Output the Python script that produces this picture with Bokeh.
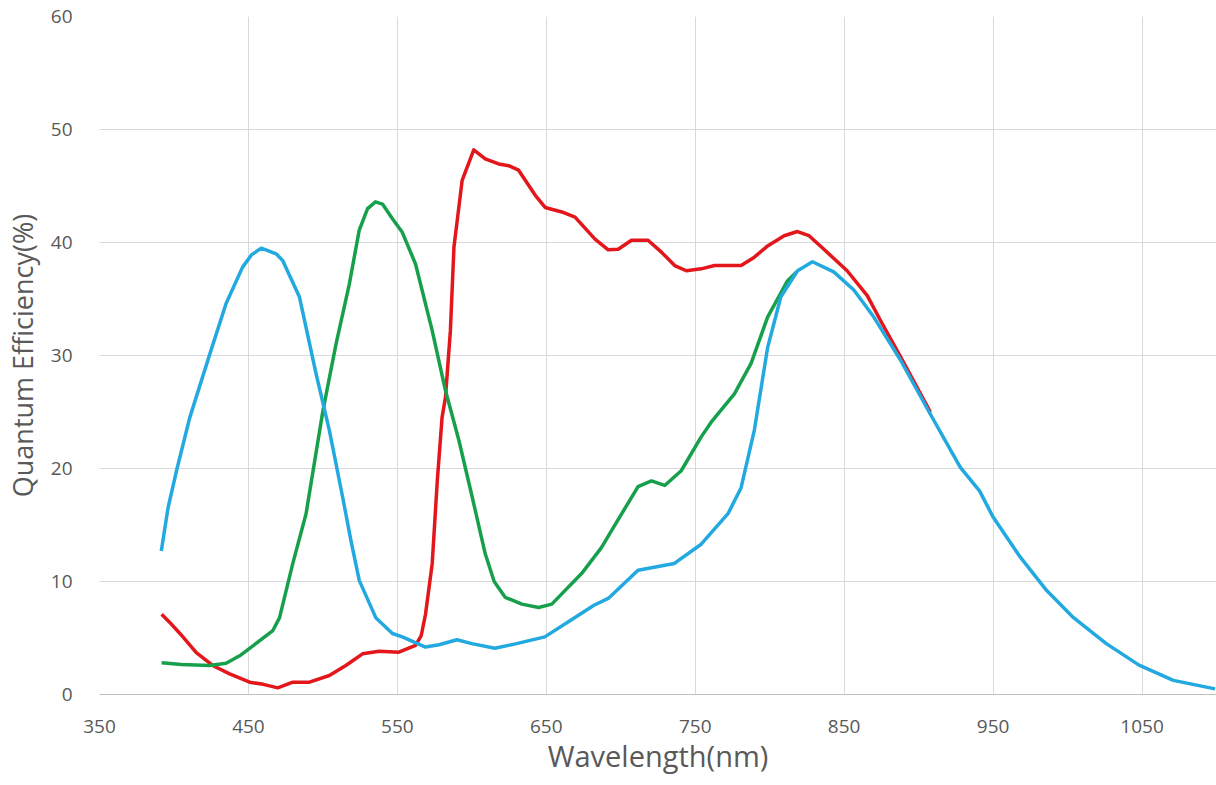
from bokeh.plotting import figure
from bokeh.models import Range1d, FixedTicker
from bokeh.embed import file_html
from bokeh.resources import INLINE

# Wavelength (nm) / quantum efficiency (%) samples
blue_wl = [391.5, 396, 401.7, 410.6, 424, 435, 446, 452, 458.6, 468.6, 473, 484.2,
           495.4, 504.3, 513.2, 519, 524.4, 535.5, 546.7, 553.3, 568.9, 578, 590,
           600, 615.5, 630, 649, 669, 682, 691.6, 711.6, 736, 754, 772, 780.8,
           789.7, 798.6, 807.5, 818.7, 828.7, 843, 856.5, 869.9, 887.8, 907.9,
           928, 941, 950, 968, 986, 1004, 1026, 1048, 1071, 1099]
blue_qe = [12.7, 16.5, 19.8, 24.5, 30.1, 34.6, 37.8, 38.9, 39.5, 39.0, 38.4, 35.2,
           28.4, 23.4, 17.5, 13.5, 10.1, 6.8, 5.4, 5.1, 4.2, 4.4, 4.85,
           4.5, 4.1, 4.5, 5.1, 6.8, 7.9, 8.5, 11.0, 11.6, 13.3, 16.0, 18.3,
           23.4, 30.7, 35.2, 37.5, 38.3, 37.4, 35.8, 33.4, 29.6, 24.8,
           20.1, 18.0, 15.7, 12.2, 9.2, 6.8, 4.5, 2.6, 1.25, 0.5]

green_wl = [391.7, 405, 424, 435, 445, 453, 466.4, 470.9, 479.8, 488.7, 500, 508.8,
            517.7, 524.4, 530, 535.3, 540, 546.7, 553.3, 562.2, 573.4, 582.3, 591.3,
            600.2, 609, 615, 622.4, 633.6, 644.8, 653.7, 673.7, 687, 693.8, 711.6,
            720.6, 729.5, 740.6, 754, 760.7, 776.3, 787.5, 798.6, 811.9, 818]
green_qe = [2.8, 2.65, 2.57, 2.77, 3.5, 4.3, 5.66, 6.8, 11.6, 16.0, 25.1, 31.0,
            36.3, 41.1, 43.0, 43.6, 43.4, 42.1, 40.9, 38.1, 32.2, 26.9, 22.5,
            17.5, 12.45, 10.0, 8.6, 8.0, 7.7, 8.0, 10.7, 13.0, 14.5, 18.4,
            18.9, 18.5, 19.8, 22.8, 24.1, 26.6, 29.3, 33.4, 36.6, 37.4]

red_wl = [391.7, 397, 404, 415, 426, 437.4, 450.8, 460, 469.7, 479.8, 491, 504.3,
          515.4, 526.6, 537.8, 551, 562.2, 566, 568.9, 573.4, 576.8, 580, 582.3,
          585.6, 588, 593.5, 601.3, 609, 618, 624.7, 631.4, 642.5, 649.2, 660.4,
          669.3, 682.7, 691.6, 698.3, 707.2, 718.3, 727.3, 736.2, 744, 754, 763,
          780.8, 789.7, 798.6, 809.7, 818.6, 826.4, 836.4, 852, 865.5, 874.4,
          887.8, 907.9]
red_qe = [7.1, 6.4, 5.4, 3.7, 2.57, 1.83, 1.09, 0.9, 0.59, 1.09, 1.09, 1.68,
          2.57, 3.6, 3.83, 3.74, 4.34, 5.2, 7.1, 11.6, 18.9, 24.5, 26.3,
          32.2, 39.6, 45.5, 48.2, 47.4, 46.95, 46.8, 46.4, 44.2, 43.1, 42.7,
          42.25, 40.3, 39.35, 39.4, 40.2, 40.2, 39.15, 37.96, 37.5, 37.67, 37.96,
          37.96, 38.7, 39.7, 40.6, 40.97, 40.6, 39.4, 37.5, 35.3, 33.1,
          29.9, 25.0]

x_ticks = [350, 450, 550, 650, 750, 850, 950, 1050]
y_ticks = [0, 10, 20, 30, 40, 50, 60]

FONT = "Open Sans"
TXT = "#595959"

p = figure(width=1216, height=777, output_backend="svg", toolbar_location=None,
           x_range=Range1d(350, 1100), y_range=Range1d(0, 60),
           min_border_left=96, min_border_right=0, min_border_top=16,
           min_border_bottom=83)
p.outline_line_color = None
p.background_fill_color = "white"
p.border_fill_color = "white"

p.line(red_wl, red_qe, line_color="#E3161B", line_width=3.5, line_join="round")
p.line(green_wl, green_qe, line_color="#17A04C", line_width=3.5, line_join="round")
p.line(blue_wl, blue_qe, line_color="#22A9DF", line_width=3.5, line_join="round")

p.xaxis.ticker = FixedTicker(ticks=x_ticks)
p.yaxis.ticker = FixedTicker(ticks=y_ticks)
p.xgrid.ticker = FixedTicker(ticks=x_ticks)
p.ygrid.ticker = FixedTicker(ticks=y_ticks)
p.xgrid.grid_line_color = "#D9D9D9"
p.ygrid.grid_line_color = "#D9D9D9"
p.xgrid.grid_line_width = 1
p.ygrid.grid_line_width = 1

for ax in (p.xaxis, p.yaxis):
    ax.major_tick_line_color = None
    ax.minor_tick_line_color = None
    ax.major_tick_out = 0
    ax.major_tick_in = 0
    ax.major_label_text_font = FONT
    ax.major_label_text_font_size = "19px"
    ax.major_label_text_color = TXT
    ax.axis_label_text_font = FONT
    ax.axis_label_text_color = TXT
    ax.axis_label_text_font_style = "normal"

p.xaxis.axis_label_text_font_size = "29px"
p.yaxis.axis_label_text_font_size = "27px"
p.xaxis.axis_line_color = "#BFBFBF"
p.yaxis.axis_line_color = None
p.xaxis.axis_label = "Wavelength(nm)"
p.yaxis.axis_label = "Quantum Efficiency(%)"
p.xaxis.major_label_standoff = 25
p.yaxis.major_label_standoff = 27
p.xaxis.axis_label_standoff = 0
p.yaxis.axis_label_standoff = 7

open("out.html", "w").write(file_html(p, INLINE))
